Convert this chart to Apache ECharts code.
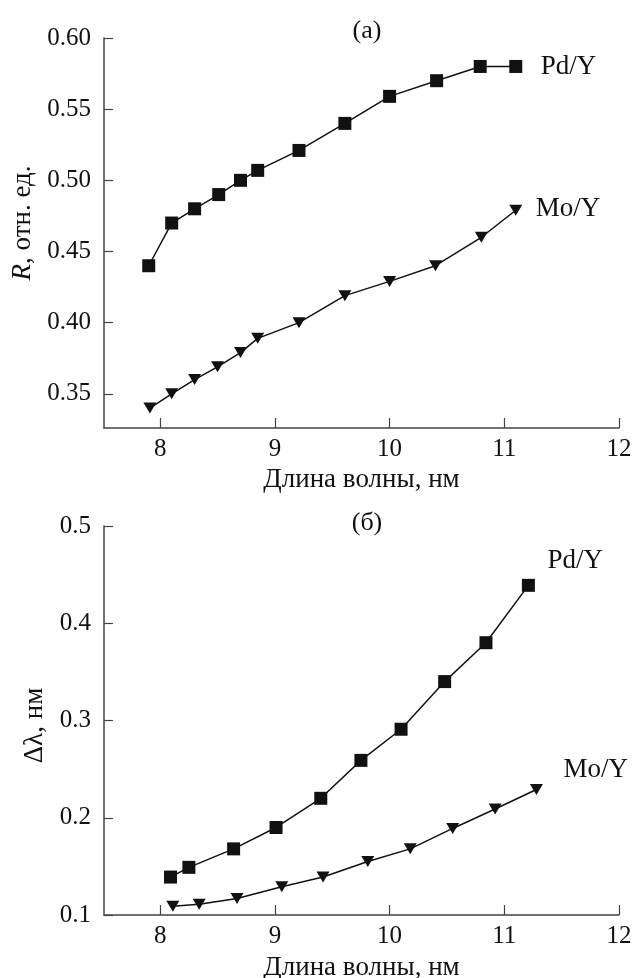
<!DOCTYPE html>
<html>
<head>
<meta charset="utf-8">
<script src="https://cdn.jsdelivr.net/npm/echarts@6/dist/echarts.min.js"></script>
<style>
  html, body { margin: 0; padding: 0; background: #fff; }
  #main { width: 635px; height: 978px; }
</style>
</head>
<body>
<div id="main"></div>
<script>
// (а) reflectance
const xPdR = [7.9, 8.1, 8.3, 8.51, 8.7, 8.85, 9.21, 9.61, 10.0, 10.41, 10.79, 11.1];
const yPdR = [0.44, 0.47, 0.48, 0.49, 0.50, 0.507, 0.521, 0.54, 0.559, 0.57, 0.58, 0.58];
const xMoR = [7.91, 8.1, 8.3, 8.5, 8.7, 8.85, 9.21, 9.61, 10.0, 10.4, 10.8, 11.1];
const yMoR = [0.34, 0.35, 0.36, 0.369, 0.379, 0.389, 0.40, 0.419, 0.429, 0.44, 0.46, 0.479];
// (б) bandwidth
const xPdW = [8.09, 8.25, 8.64, 9.01, 9.4, 9.75, 10.1, 10.48, 10.84, 11.21];
const yPdW = [0.139, 0.149, 0.168, 0.19, 0.22, 0.259, 0.291, 0.34, 0.38, 0.439];
const xMoW = [8.11, 8.34, 8.67, 9.06, 9.42, 9.81, 10.18, 10.55, 10.92, 11.28];
const yMoW = [0.109, 0.111, 0.117, 0.129, 0.139, 0.155, 0.168, 0.189, 0.209, 0.229];

const xTicks = [8, 9, 10, 11, 12];
const yTicksR = [0.35, 0.40, 0.45, 0.50, 0.55, 0.60];

const font = "'Liberation Serif', 'Times New Roman', serif";
const ink = '#111';
const axisCol = '#444';
const tickFs = 25;
const nameFs = 27;

function pairs(xs, ys) {
  return xs.map((x, i) => [x, ys[i]]);
}

function xAx(idx) {
  return {
    type: 'value', gridIndex: idx, min: 7.51, max: 12,
    name: 'Длина волны, нм', nameLocation: 'middle', nameGap: idx === 0 ? 38 : 39,
    nameTextStyle: { fontFamily: font, fontSize: nameFs, color: ink },
    axisLine: { lineStyle: { color: axisCol, width: 1.5 } },
    axisTick: { inside: true, length: 10, customValues: xTicks, lineStyle: { color: axisCol, width: 1.2 } },
    axisLabel: { customValues: xTicks, margin: 9, fontFamily: font, fontSize: tickFs, color: ink },
    splitLine: { show: false }
  };
}

function ser(name, xs, ys, idx, symbol, off) {
  return {
    name: name, type: 'line', xAxisIndex: idx, yAxisIndex: idx,
    data: pairs(xs, ys),
    symbol: symbol,
    symbolSize: symbol === 'rect' ? 13 : [13, 11],
    symbolRotate: symbol === 'triangle' ? 180 : 0,
    lineStyle: { color: ink, width: 1.5 },
    itemStyle: { color: ink },
    z: 3,
    endLabel: {
      show: true, formatter: name, offset: off,
      fontFamily: font, fontSize: nameFs, color: ink
    }
  };
}

const chart = echarts.init(document.getElementById('main'));
chart.setOption({
  animation: false,
  backgroundColor: '#fff',
  title: [
    { text: '(а)', left: 362, top: 13, textAlign: 'center',
      textStyle: { fontFamily: font, fontSize: 26, fontWeight: 'normal', color: ink } },
    { text: '(б)', left: 362, top: 505, textAlign: 'center',
      textStyle: { fontFamily: font, fontSize: 26, fontWeight: 'normal', color: ink } }
  ],
  grid: [
    { left: 104, right: 16, top: 38, height: 390, outerBoundsMode: 'none' },
    { left: 104, right: 16, top: 526, height: 389, outerBoundsMode: 'none' }
  ],
  xAxis: [xAx(0), xAx(1)],
  yAxis: [
    {
      type: 'value', gridIndex: 0, min: 0.326, max: 0.6,
      name: '{i|R}, отн. ед.', nameLocation: 'middle', nameGap: 68,
      nameTextStyle: { fontFamily: font, fontSize: nameFs, color: ink, padding: [0, 0, 0, 20],
        rich: { i: { fontFamily: font, fontSize: nameFs, fontStyle: 'italic', color: ink } } },
      axisLine: { show: true, lineStyle: { color: axisCol, width: 1.5 } },
      axisTick: { show: true, inside: true, length: 9, customValues: yTicksR, lineStyle: { color: axisCol, width: 1.2 } },
      axisLabel: { customValues: yTicksR, margin: 13, fontFamily: font, fontSize: tickFs, color: ink,
        formatter: v => v.toFixed(2) },
      splitLine: { show: false }
    },
    {
      type: 'value', gridIndex: 1, min: 0.1, max: 0.5, interval: 0.1,
      name: 'Δλ, нм', nameLocation: 'middle', nameGap: 50,
      nameTextStyle: { fontFamily: font, fontSize: nameFs, color: ink, padding: [0, 10, 0, 0] },
      axisLine: { show: true, lineStyle: { color: axisCol, width: 1.5 } },
      axisTick: { show: true, inside: true, length: 9, lineStyle: { color: axisCol, width: 1.2 } },
      axisLabel: { margin: 13, fontFamily: font, fontSize: tickFs, color: ink,
        formatter: v => v.toFixed(1) },
      splitLine: { show: false }
    }
  ],
  series: [
    ser('Pd/Y', xPdR, yPdR, 0, 'rect', [17, 0]),
    ser('Mo/Y', xMoR, yMoR, 0, 'triangle', [12, -1]),
    ser('Pd/Y', xPdW, yPdW, 1, 'rect', [11, -24]),
    ser('Mo/Y', xMoW, yMoW, 1, 'triangle', [19, -20])
  ]
});
</script>
</body>
</html>
